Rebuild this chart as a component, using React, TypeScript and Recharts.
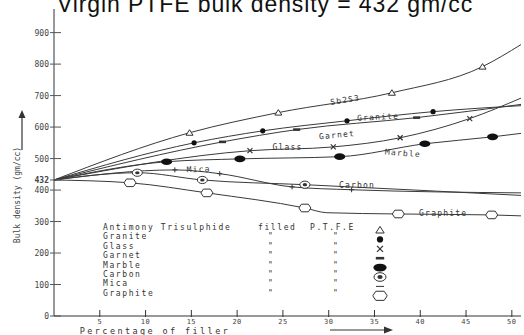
import { LineChart, Line, XAxis, YAxis, ReferenceDot } from 'recharts';

// percentage of filler (x) and bulk density (y)
const sbX = [0, 14.8, 24.5, 36.9, 46.8, 51];
const sbY = [432, 582, 646, 709, 792, 862];
const graniteX = [0, 15.3, 22.8, 32, 41.4, 51];
const graniteY = [432, 550, 588, 620, 649, 668];
const garnetX = [0, 18.4, 26.5, 39.6, 51];
const garnetY = [432, 553, 592, 630, 672];
const glassX = [0, 21.4, 30.5, 37.8, 45.4, 51];
const glassY = [432, 525, 537, 566, 627, 692];
const marbleX = [0, 12.3, 20.3, 31.2, 40.5, 47.9, 51];
const marbleY = [432, 490, 499, 506, 547, 569, 580];
const micaX = [0, 13.2, 18.1, 26, 32.5, 51];
const micaY = [432, 464, 452, 410, 401, 391];
const carbonX = [0, 9.1, 16.2, 27.4, 51];
const carbonY = [432, 455, 432, 417, 383];
const graphiteX = [0, 8.3, 16.7, 27.4, 29.8, 37.6, 47.8, 51];
const graphiteY = [432, 423, 391, 343, 328, 324, 321, 318];

const pctTicks = [5, 10, 15, 20, 25, 30, 35, 40, 45, 50];
const densityTicks = [0, 100, 200, 300, 400, 432, 500, 600, 700, 800, 900];

const curveLabels = ['Sb2S3', 'Granite', 'Garnet', 'Glass', 'Marble', 'Mica', 'Carbon', 'Graphite'];
const curveLabelX = [31.8, 35.4, 30.9, 25.5, 38.1, 15.8, 33.1, 42.5];
const curveLabelY = [687, 633, 576, 538, 518, 467, 417, 328];
const curveLabelTilt = [-9, -3, -5, 0, 4, -2, 0, 0];

const legendNames = ['Antimony Trisulphide', 'Granite', 'Glass', 'Garnet', 'Marble', 'Carbon', 'Mica', 'Graphite'];
const legendKinds = ['tri', 'dot', 'cross', 'bar', 'oval', 'carbon', 'dash', 'hex'];

const INK = '#333';
const MONO = '"DejaVu Sans Mono", monospace';

type Kind = 'tri' | 'dot' | 'cross' | 'bar' | 'oval' | 'carbon' | 'plus' | 'dash' | 'hex';

function Marker({ kind, cx, cy, big }: { kind: Kind; cx: number; cy: number; big?: boolean }) {
  const s = big ? 1.2 : 1;
  switch (kind) {
    case 'tri':
      return <polygon points={`${cx - 3.5 * s},${cy + 2.5 * s} ${cx + 3.5 * s},${cy + 2.5 * s} ${cx},${cy - 3 * s}`} fill="#fff" stroke={INK} strokeWidth={1} />;
    case 'dot':
      return <circle cx={cx} cy={cy} r={2.6 * s} fill="#111" />;
    case 'cross':
      return (
        <g stroke={INK} strokeWidth={1.2}>
          <line x1={cx - 2.5 * s} y1={cy - 2.5 * s} x2={cx + 2.5 * s} y2={cy + 2.5 * s} />
          <line x1={cx - 2.5 * s} y1={cy + 2.5 * s} x2={cx + 2.5 * s} y2={cy - 2.5 * s} />
        </g>
      );
    case 'bar':
      return <rect x={cx - 3.5 * s} y={cy - 1.3} width={7 * s} height={2.6} fill={INK} />;
    case 'oval':
      return <ellipse cx={cx} cy={cy} rx={5.5 * s} ry={3.3 * s} fill="#111" />;
    case 'carbon':
      return (
        <g>
          <ellipse cx={cx} cy={cy} rx={5 * s} ry={3.6 * s} fill="#fff" stroke={INK} strokeWidth={1} />
          <ellipse cx={cx} cy={cy} rx={2.2 * s} ry={1.6 * s} fill={INK} />
        </g>
      );
    case 'plus':
      return (
        <g stroke={INK} strokeWidth={1}>
          <line x1={cx - 2.5} y1={cy} x2={cx + 2.5} y2={cy} />
          <line x1={cx} y1={cy - 2.5} x2={cx} y2={cy + 2.5} />
        </g>
      );
    case 'dash':
      return <line x1={cx - 4} y1={cy} x2={cx + 4} y2={cy} stroke={INK} strokeWidth={1} />;
    case 'hex':
      return (
        <polygon
          points={`${cx - 6 * s},${cy} ${cx - 3.5 * s},${cy - 3.8 * s} ${cx + 3.5 * s},${cy - 3.8 * s} ${cx + 6 * s},${cy} ${cx + 3.5 * s},${cy + 3.8 * s} ${cx - 3.5 * s},${cy + 3.8 * s}`}
          fill="#fff"
          stroke={INK}
          strokeWidth={1}
        />
      );
  }
  return null;
}

interface SeriesDef {
  name: string;
  xs: number[];
  ys: number[];
  marks: number[];
  kind: Kind;
}

const series: SeriesDef[] = [
  { name: 'Sb2S3', xs: sbX, ys: sbY, marks: [1, 2, 3, 4], kind: 'tri' },
  { name: 'Granite', xs: graniteX, ys: graniteY, marks: [1, 2, 3, 4], kind: 'dot' },
  { name: 'Garnet', xs: garnetX, ys: garnetY, marks: [1, 2, 3], kind: 'bar' },
  { name: 'Glass', xs: glassX, ys: glassY, marks: [1, 2, 3, 4], kind: 'cross' },
  { name: 'Marble', xs: marbleX, ys: marbleY, marks: [1, 2, 3, 4, 5], kind: 'oval' },
  { name: 'Mica', xs: micaX, ys: micaY, marks: [1, 2, 3, 4], kind: 'plus' },
  { name: 'Carbon', xs: carbonX, ys: carbonY, marks: [1, 2, 3], kind: 'carbon' },
  { name: 'Graphite', xs: graphiteX, ys: graphiteY, marks: [1, 2, 3, 5, 6], kind: 'hex' },
];

const XTick = ({ x, y, payload }: any) => (
  <g>
    <line x1={x} x2={x} y1={y - 6} y2={y + 1} stroke={INK} />
    <text x={x} y={y + 7.5} textAnchor="middle" fontSize={7} fontFamily={MONO} fill="#444" letterSpacing={0.5}>
      {payload.value}
    </text>
  </g>
);

const YTick = ({ x, y, payload }: any) => (
  <g>
    <line x1={x - 4} x2={x + 7} y1={y} y2={y} stroke="#555" />
    <text x={x - 5} y={y + 3} textAnchor="end" fontSize={8} fontFamily={MONO} fill="#444" fontWeight={payload.value === 432 ? 'bold' : 'normal'}>
      {payload.value}
    </text>
  </g>
);

export default function App() {
  return (
    <div style={{ position: 'absolute', left: 0, top: 0, width: 524, height: 335, background: '#fff', overflow: 'hidden' }}>
      <LineChart width={524} height={335} margin={{ top: 9, right: 3, bottom: 7, left: 0 }}>
        <XAxis
          type="number"
          dataKey="x"
          domain={[0, 51]}
          ticks={pctTicks}
          interval={0}
          tickSize={0}
          tickMargin={0}
          tickLine={false}
          tick={<XTick />}
          height={12}
          stroke={INK}
          allowDataOverflow
        />
        <YAxis
          type="number"
          domain={[0, 975]}
          ticks={densityTicks}
          interval={0}
          tickSize={0}
          tickMargin={0}
          tickLine={false}
          tick={<YTick />}
          width={54}
          stroke={INK}
          allowDataOverflow
        />
        {series.map((s) => (
          <Line
            key={s.name}
            data={s.xs.map((x, i) => ({ x, y: s.ys[i] }))}
            dataKey="y"
            type="monotone"
            stroke="#3a3a3a"
            strokeWidth={1}
            isAnimationActive={false}
            activeDot={false}
            dot={(p: any) =>
              s.marks.includes(p.index) ? (
                <Marker key={`${s.name}-${p.index}`} kind={s.kind} cx={p.cx} cy={p.cy} />
              ) : (
                <g key={`${s.name}-${p.index}`} />
              )
            }
          />
        ))}
        {curveLabels.map((lab, i) => (
          <ReferenceDot
            key={lab}
            x={curveLabelX[i]}
            y={curveLabelY[i]}
            r={0}
            ifOverflow="visible"
            shape={(p: any) => (
              <text
                x={p.cx}
                y={p.cy + 3}
                textAnchor="middle"
                fontSize={8}
                fontFamily={MONO}
                letterSpacing={1.2}
                fill={INK}
                transform={`rotate(${curveLabelTilt[i]} ${p.cx} ${p.cy})`}
              >
                {lab}
              </text>
            )}
          />
        ))}
      </LineChart>

      <svg width={524} height={335} style={{ position: 'absolute', left: 0, top: 0, pointerEvents: 'none' }}>
        <text x={265} y={12} textAnchor="middle" fontSize={23} letterSpacing={0.9} fontFamily="'Liberation Sans', Arial, sans-serif" fill="#111">
          Virgin PTFE bulk density = 432 gm/cc
        </text>

        <text
          x={20}
          y={195}
          textAnchor="middle"
          fontSize={8}
          fontFamily={MONO}
          fill="#444"
          transform="rotate(-90 20 195)"
        >
          Bulk density (gm/cc)
        </text>
        <line x1={22} y1={150} x2={22} y2={116} stroke={INK} strokeWidth={1.2} />
        <polygon points="18.5,118 25.5,118 22,110" fill={INK} />

        <text x={155} y={334} textAnchor="middle" fontSize={8.5} fontFamily={MONO} letterSpacing={2.4} fill="#333">
          Percentage of filler
        </text>
        <line x1={330} y1={330} x2={386} y2={330} stroke={INK} strokeWidth={1.2} />
        <polygon points="384,326.5 384,333.5 393,330" fill={INK} />

        {legendNames.map((name, i) => {
          const yy = 230 + 9.4 * i;
          return (
            <g key={name} fontFamily={MONO} fontSize={8} fill="#333" letterSpacing={1.6}>
              <text x={103} y={yy}>{name}</text>
              {i === 0 ? (
                <>
                  <text x={258} y={yy}>filled</text>
                  <text x={310} y={yy}>P.T.F.E</text>
                </>
              ) : (
                <>
                  <text x={268} y={yy}>"</text>
                  <text x={333} y={yy}>"</text>
                </>
              )}
              <Marker kind={legendKinds[i] as Kind} cx={380} cy={yy} big />
            </g>
          );
        })}
      </svg>
    </div>
  );
}
